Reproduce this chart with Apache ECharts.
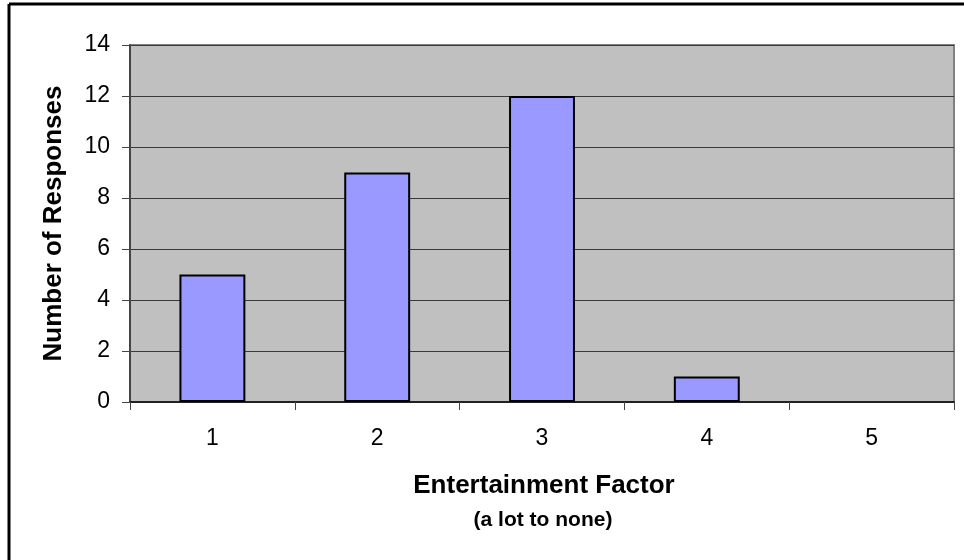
<!DOCTYPE html>
<html>
<head>
<meta charset="utf-8">
<script src="https://cdn.jsdelivr.net/npm/echarts@6/dist/echarts.min.js"></script>
<style>
  html, body { margin: 0; padding: 0; background: #fff; }
  #chart { width: 964px; height: 560px; }
</style>
</head>
<body>
<div id="chart"></div>
<script>
// Survey results: how entertaining respondents found it (1 = a lot, 5 = none)
const categories = ['1', '2', '3', '4', '5'];
const responses = [5, 9, 12, 1, 0];
const yTicks = [0, 2, 4, 6, 8, 10, 12, 14];

const FONT = '"Liberation Sans", Arial, sans-serif';

const chart = echarts.init(document.getElementById('chart'), null, { renderer: 'canvas' });

// empty categories get no outline, so nothing is drawn for them
const barData = responses.map(v => (v === 0 ? { value: v, itemStyle: { borderWidth: 0 } } : v));

chart.setOption({
  animation: false,
  backgroundColor: '#ffffff',
  graphic: [
    // frame along the top and left edges
    { type: 'line', shape: { x1: 9, y1: 4, x2: 964, y2: 4 }, style: { stroke: '#000', lineWidth: 3 }, z: 100 },
    { type: 'line', shape: { x1: 9, y1: 4, x2: 9, y2: 560 }, style: { stroke: '#000', lineWidth: 3 }, z: 100 },
    {
      type: 'text',
      style: {
        text: 'Entertainment Factor', x: 544, y: 486,
        font: 'bold 26px ' + FONT, fill: '#000', align: 'center', verticalAlign: 'middle'
      }
    },
    {
      type: 'text',
      style: {
        text: '(a lot to none)', x: 543, y: 520,
        font: 'bold 21px ' + FONT, fill: '#000', align: 'center', verticalAlign: 'middle'
      }
    }
  ],
  grid: {
    left: 130, top: 45, right: 10, bottom: 158,
    show: true,
    backgroundColor: '#C0C0C0',
    borderColor: '#808080',
    borderWidth: 2
  },
  xAxis: {
    type: 'category',
    data: categories,
    axisLine: { show: true, lineStyle: { color: '#222', width: 2 } },
    axisTick: { show: true, alignWithLabel: false, length: 8, lineStyle: { color: '#444', width: 1 } },
    axisLabel: { color: '#000', fontFamily: FONT, fontSize: 23, margin: 25 },
    splitLine: { show: false }
  },
  yAxis: {
    type: 'value',
    min: 0, max: 14, interval: 2,
    name: 'Number of Responses',
    nameLocation: 'middle',
    nameGap: 63,
    nameTextStyle: { color: '#000', fontFamily: FONT, fontSize: 26, fontWeight: 'bold' },
    axisLine: { show: true, lineStyle: { color: '#444', width: 2 } },
    axisTick: { show: true, length: 8, lineStyle: { color: '#444', width: 1 } },
    axisLabel: {
      color: '#000', fontFamily: FONT, fontSize: 23, margin: 20,
      formatter: v => (yTicks.includes(v) ? String(v) : '')
    },
    splitLine: { show: true, lineStyle: { color: '#3a3a3a', width: 1 } }
  },
  series: [{
    type: 'bar',
    data: barData,
    barWidth: '40%',
    itemStyle: { color: '#9999FF', borderColor: '#000', borderWidth: 2 }
  }]
});
</script>
</body>
</html>
